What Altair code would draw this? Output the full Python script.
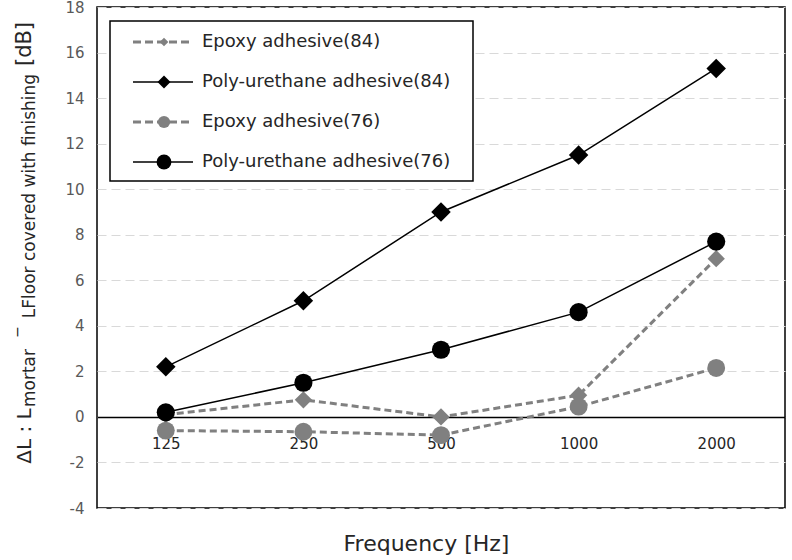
import altair as alt
import pandas as pd

# ---------------- data ----------------
freqs = ["125", "250", "500", "1000", "2000"]
series_names = [
    "Epoxy adhesive(84)",
    "Poly-urethane adhesive(84)",
    "Epoxy adhesive(76)",
    "Poly-urethane adhesive(76)",
]
epoxy84 = [0.1, 0.75, 0.0, 0.95, 6.95]
pu84 = [2.2, 5.1, 9.0, 11.5, 15.3]
epoxy76 = [-0.6, -0.65, -0.8, 0.45, 2.15]
pu76 = [0.2, 1.5, 2.95, 4.6, 7.7]
series_values = [epoxy84, pu84, epoxy76, pu76]
y_ticks = list(range(-4, 20, 2))
title_parts = ["ΔL : L", "mortar", "−", "LFloor covered with finishing", "[dB]"]

# ---------------- styles ----------------
series_colors = ["#808080", "#000000", "#808080", "#000000"]
series_shapes = ["diamond", "diamond", "circle", "circle"]
series_dashed = [True, False, True, False]
point_sizes = [300, 380, 320, 330]
legend_sizes = [75, 170, 150, 220]

W, H = 688, 501
FONT = "DejaVu Sans"

x_enc = alt.X(
    "freq:N",
    scale=alt.Scale(type="point", domain=freqs, padding=0.5),
    axis=alt.Axis(
        title="Frequency [Hz]", offset=-91.1, domain=True, domainColor="black",
        domainWidth=1.5, ticks=False, grid=False, labelPadding=20, labelAngle=0,
        labelFont=FONT, labelFontSize=15, labelColor="#262626",
        titleFont=FONT, titleFontSize=22, titleFontWeight="normal",
        titleColor="#262626", titleY=134, titleX=329, titleAlign="center",
        titleBaseline="alphabetic",
    ),
)
y_enc = alt.Y(
    "value:Q",
    scale=alt.Scale(domain=[-4, 18], nice=False, zero=False),
    axis=alt.Axis(
        values=y_ticks, title=None, domain=False, ticks=False, grid=True,
        gridColor="#d9d9d9", gridDash=[9, 5], gridWidth=1.2,
        labelFont=FONT, labelFontSize=15, labelColor="#595959", labelPadding=13,
        labelExpr="'' + datum.value",
    ),
)

data_layers = []
for name, vals, c, shp, dashed, sz in zip(series_names, series_values, series_colors,
                                          series_shapes, series_dashed, point_sizes):
    df = pd.DataFrame({"freq": freqs, "value": vals, "series": name})
    line_kw = dict(color=c, strokeWidth=3 if dashed else 1.5)
    if dashed:
        line_kw["strokeDash"] = [7, 4]
    data_layers.append(alt.Chart(df).mark_line(**line_kw).encode(x=x_enc, y=y_enc))
    data_layers.append(
        alt.Chart(df).mark_point(filled=True, shape=shp, size=sz, color=c, opacity=1)
        .encode(x=x_enc, y=y_enc)
    )

# ---------------- legend ----------------
one = pd.DataFrame({"a": [0]})
ly = alt.Y("row:Q", scale=alt.Scale(domain=[0, 3], range=[35, 155]), axis=None)
legend_layers = [
    alt.Chart(one).mark_rect(fill="white", stroke="black", strokeWidth=1.5).encode(
        x=alt.value(13), x2=alt.value(376), y=alt.value(14), y2=alt.value(174)
    )
]
for i, (name, c, shp, dashed, sz) in enumerate(zip(series_names, series_colors, series_shapes,
                                                   series_dashed, legend_sizes)):
    ldf = pd.DataFrame({"series": [name], "row": [i]})
    rule_kw = dict(color=c, strokeWidth=3 if dashed else 1.5)
    if dashed:
        rule_kw["strokeDash"] = [8, 4]
    legend_layers.append(alt.Chart(ldf).mark_rule(**rule_kw).encode(
        x=alt.value(36), x2=alt.value(96), y=ly))
    legend_layers.append(alt.Chart(ldf).mark_point(filled=True, shape=shp, size=sz, color=c, opacity=1)
                         .encode(x=alt.value(67), y=ly))
    legend_layers.append(alt.Chart(ldf).mark_text(align="left", baseline="middle", font=FONT,
                                                  fontSize=18, color="#262626")
                         .encode(x=alt.value(105), y=ly, text="series:N"))

# ---------------- y title (with subscripts) ----------------
title_specs = [
    # text, y-centre, x-baseline, size, baseline
    (title_parts[0], 429, -66, 20, "alphabetic"),
    (title_parts[1], 371, -62, 17, "alphabetic"),
    (title_parts[2], 325, -79, 14, "middle"),
    (title_parts[3], 189, -62, 17, "alphabetic"),
    (title_parts[4], 37, -66, 21, "alphabetic"),
]
title_layers = []
for txt, yc, xb, fs, bl in title_specs:
    title_layers.append(
        alt.Chart(one).mark_text(text=txt, angle=270, align="center", baseline=bl,
                                 font=FONT, fontSize=fs, color="#262626")
        .encode(x=alt.value(xb), y=alt.value(yc))
    )

chart = (
    alt.layer(alt.layer(*data_layers), alt.layer(*legend_layers, *title_layers))
    .resolve_scale(y="independent")
    .properties(
        width=W, height=H,
        padding={"left": 97, "top": 7, "right": 7, "bottom": 52},
        autosize=alt.AutoSizeParams(type="none"),
        background="white",
    )
    .configure_view(stroke="black", strokeWidth=1.5)
)

chart.save("out.html", embed_options={"renderer": "svg", "actions": False})
